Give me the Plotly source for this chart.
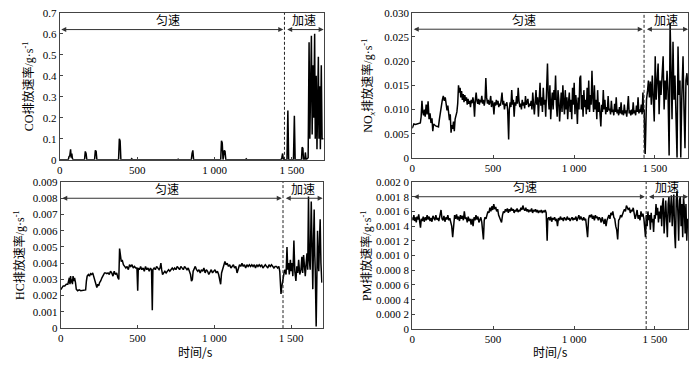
import plotly.graph_objects as go

# ---------------- data ----------------
x_ticks = [0, 500, 1000, 1500]
x_ticktext = ["0", "500", "1 000", "1 500"]

co_points = [
    (0, 0), (55, 0), (60, 0.015), (65, 0.02), (70, 0.05), (74, 0.01), (78, 0.03), (82, 0.005), (88, 0),
    (160, 0), (165, 0.04), (170, 0.03), (175, 0), (225, 0), (230, 0.045), (235, 0.04), (240, 0),
    (380, 0), (385, 0.1), (390, 0.09), (395, 0), (460, 0), (465, 0.005), (470, 0),
    (760, 0), (765, 0.003), (770, 0), (850, 0), (855, 0.03), (860, 0.045), (865, 0),
    (1040, 0), (1045, 0.09), (1050, 0.08), (1055, 0), (1063, 0.045), (1068, 0.04), (1073, 0),
    (1200, 0), (1205, 0.004), (1210, 0), (1300, 0), (1305, 0.003), (1310, 0),
    (1430, 0), (1435, 0.01), (1440, 0.03), (1445, 0), (1468, 0), (1474, 0.235), (1479, 0),
    (1510, 0), (1516, 0.21), (1521, 0), (1562, 0), (1566, 0.06), (1571, 0.055), (1575, 0),
    (1583, 0), (1587, 0.035), (1592, 0), (1605, 0.01), (1611, 0.56), (1616, 0.1), (1621, 0.55),
    (1626, 0.59), (1631, 0.12), (1636, 0.45), (1641, 0.2), (1647, 0.6), (1651, 0.1), (1657, 0.4),
    (1662, 0.05), (1667, 0.35), (1671, 0.49), (1675, 0.1), (1680, 0.35), (1684, 0.05), (1690, 0.45),
    (1695, 0.1), (1700, 0.1), (1705, 0.1),
]

nox_points = [
    (0, 0.0061), (5, 0.0068), (10, 0.0070), (20, 0.0069), (30, 0.0070), (40, 0.0070), (50, 0.0072),
    (55, 0.0085), (60, 0.0118), (65, 0.0095), (70, 0.0088), (75, 0.0100), (80, 0.0085), (86, 0.0110),
    (92, 0.0090), (98, 0.0117), (104, 0.0080), (110, 0.0092), (116, 0.0072), (122, 0.0082),
    (127, 0.0055), (132, 0.0070), (138, 0.0068), (145, 0.0066), (155, 0.0065), (162, 0.0064),
    (168, 0.0080), (175, 0.0100), (180, 0.0115), (186, 0.0120), (192, 0.0128), (198, 0.0118),
    (204, 0.0125), (210, 0.0110), (215, 0.0098), (220, 0.0108), (225, 0.0085), (230, 0.0078),
    (235, 0.0090), (240, 0.0052), (245, 0.0068), (250, 0.0060), (255, 0.0075), (260, 0.0055),
    (265, 0.0080), (270, 0.0088), (276, 0.0095), (281, 0.0112), (286, 0.0150), (291, 0.0135),
    (296, 0.0145), (300, 0.0125), (305, 0.0138), (310, 0.0120), (315, 0.0132), (320, 0.0115),
    (325, 0.0130), (330, 0.0118), (335, 0.0125), (340, 0.0110), (345, 0.0122), (350, 0.0112),
    (355, 0.0118), (360, 0.0105), (365, 0.0120), (370, 0.0113), (375, 0.0125), (380, 0.0115),
    (385, 0.0085), (390, 0.0120), (395, 0.0135), (400, 0.0118), (405, 0.0112), (410, 0.0122),
    (415, 0.0110), (420, 0.0120), (425, 0.0115), (430, 0.0128), (435, 0.0112), (440, 0.0120),
    (445, 0.0108), (450, 0.0118), (455, 0.0165), (460, 0.0125), (465, 0.0112), (470, 0.0120),
    (475, 0.0110), (480, 0.0115), (485, 0.0128), (490, 0.0105), (495, 0.0118), (500, 0.0112),
    (505, 0.0090), (510, 0.0115), (515, 0.0108), (520, 0.0120), (525, 0.0110), (530, 0.0118),
    (535, 0.0105), (540, 0.0112), (545, 0.0108), (550, 0.0120), (555, 0.0135), (560, 0.0110),
    (565, 0.0118), (570, 0.0100), (575, 0.0112), (580, 0.0108), (585, 0.0115), (590, 0.0098),
    (596, 0.0038), (600, 0.0100), (605, 0.0115), (610, 0.0105), (615, 0.0140), (620, 0.0110),
    (625, 0.0120), (630, 0.0085), (635, 0.0115), (640, 0.0108), (645, 0.0128), (650, 0.0112),
    (655, 0.0145), (660, 0.0118), (665, 0.0105), (670, 0.0112), (675, 0.0100), (680, 0.0120),
    (685, 0.0108), (690, 0.0115), (695, 0.0102), (700, 0.0128), (705, 0.0110), (710, 0.0115),
    (715, 0.0122), (720, 0.0105), (725, 0.0112), (730, 0.0108), (735, 0.0118), (740, 0.0100),
    (745, 0.0135), (750, 0.0110), (755, 0.0090), (760, 0.0115), (765, 0.0140), (770, 0.0110),
    (775, 0.0125), (780, 0.0085), (785, 0.0118), (790, 0.0155), (795, 0.0108), (800, 0.0125),
    (805, 0.0095), (810, 0.0145), (815, 0.0110), (820, 0.0120), (825, 0.0085), (830, 0.0130),
    (836, 0.0195), (841, 0.0125), (846, 0.0100), (851, 0.0150), (856, 0.0080), (861, 0.0115),
    (866, 0.0135), (871, 0.0100), (876, 0.0140), (881, 0.0120), (886, 0.0170), (891, 0.0110),
    (896, 0.0085), (901, 0.0140), (906, 0.0120), (911, 0.0075), (916, 0.0110), (921, 0.0135),
    (926, 0.0095), (931, 0.0150), (936, 0.0115), (941, 0.0090), (946, 0.0140), (951, 0.0100),
    (956, 0.0125), (961, 0.0080), (966, 0.0115), (971, 0.0135), (976, 0.0095), (981, 0.0120),
    (986, 0.0080), (991, 0.0145), (996, 0.0110), (1001, 0.0155), (1006, 0.0090), (1011, 0.0130),
    (1016, 0.0110), (1021, 0.0070), (1026, 0.0125), (1031, 0.0100), (1036, 0.0165), (1041, 0.0170),
    (1046, 0.0100), (1051, 0.0130), (1056, 0.0085), (1061, 0.0140), (1066, 0.0105), (1071, 0.0120),
    (1076, 0.0090), (1081, 0.0145), (1086, 0.0100), (1091, 0.0160), (1096, 0.0095), (1101, 0.0130),
    (1106, 0.0110), (1111, 0.0180), (1116, 0.0125), (1121, 0.0095), (1126, 0.0150), (1131, 0.0100),
    (1136, 0.0120), (1141, 0.0080), (1146, 0.0140), (1151, 0.0095), (1156, 0.0115), (1161, 0.0075),
    (1166, 0.0065), (1171, 0.0110), (1176, 0.0095), (1181, 0.0140), (1186, 0.0100), (1191, 0.0120),
    (1196, 0.0090), (1201, 0.0105), (1206, 0.0095), (1211, 0.0128), (1216, 0.0098), (1221, 0.0102),
    (1226, 0.0090), (1231, 0.0118), (1236, 0.0095), (1241, 0.0100), (1246, 0.0088), (1251, 0.0112),
    (1256, 0.0095), (1261, 0.0125), (1266, 0.0092), (1271, 0.0100), (1276, 0.0088), (1281, 0.0105),
    (1286, 0.0092), (1291, 0.0115), (1296, 0.0090), (1301, 0.0098), (1306, 0.0088), (1311, 0.0110),
    (1316, 0.0092), (1321, 0.0098), (1326, 0.0085), (1331, 0.0105), (1336, 0.0128), (1341, 0.0092),
    (1346, 0.0098), (1351, 0.0088), (1356, 0.0100), (1361, 0.0090), (1366, 0.0115), (1371, 0.0092),
    (1376, 0.0098), (1381, 0.0088), (1386, 0.0108), (1391, 0.0095), (1396, 0.0125), (1401, 0.0092),
    (1406, 0.0100), (1411, 0.0095), (1416, 0.0110), (1421, 0.0090), (1426, 0.0135), (1430, 0.0095),
    (1434, 0.0100), (1437, 0.0030), (1440, 0.0008), (1444, 0.0060), (1448, 0.0120), (1455, 0.0140),
    (1460, 0.0160), (1466, 0.0125), (1472, 0.0158), (1478, 0.0110), (1484, 0.0170), (1490, 0.0125),
    (1496, 0.0075), (1502, 0.0210), (1508, 0.0120), (1514, 0.0160), (1520, 0.0195), (1526, 0.0090),
    (1532, 0.0160), (1538, 0.0130), (1545, 0.0175), (1551, 0.0210), (1557, 0.0100), (1563, 0.0160),
    (1569, 0.0120), (1575, 0.0180), (1581, 0.0140), (1588, 0.0005), (1594, 0.0280), (1600, 0.0150),
    (1606, 0.0080), (1612, 0.0240), (1618, 0.0120), (1624, 0.0170), (1630, 0.0090), (1637, 0.0000),
    (1643, 0.0230), (1649, 0.0130), (1655, 0.0160), (1660, 0.0000), (1666, 0.0120), (1674, 0.0210),
    (1680, 0.0100), (1686, 0.0020), (1692, 0.0160), (1698, 0.0175), (1703, 0.0150),
]

hc_points = [
    (0, 0.00237), (8, 0.0025), (16, 0.0026), (26, 0.0026), (36, 0.0027), (46, 0.0027), (52, 0.0029),
    (56, 0.0031), (60, 0.0027), (64, 0.0032), (68, 0.0028), (72, 0.0030), (76, 0.0027), (80, 0.0032),
    (85, 0.0029), (90, 0.0031), (96, 0.0028), (101, 0.0024), (110, 0.0023), (120, 0.00235),
    (130, 0.0023), (140, 0.00232), (150, 0.0023), (162, 0.00235), (167, 0.0029), (172, 0.0032),
    (180, 0.0033), (187, 0.0032), (194, 0.00335), (201, 0.0033), (208, 0.0034), (214, 0.0032),
    (220, 0.0030), (227, 0.0028), (231, 0.0026), (235, 0.0025), (241, 0.0027), (247, 0.0026),
    (253, 0.0028), (260, 0.0029), (268, 0.0031), (276, 0.0033), (285, 0.0034), (292, 0.0034),
    (300, 0.00335), (308, 0.0034), (316, 0.0033), (324, 0.0035), (332, 0.0034), (340, 0.0032),
    (348, 0.0035), (356, 0.0033), (364, 0.0034), (372, 0.0031), (378, 0.0030), (383, 0.0049),
    (388, 0.0044), (394, 0.0041), (400, 0.0042), (408, 0.0039), (416, 0.0038), (424, 0.0037),
    (432, 0.0038), (440, 0.0036), (448, 0.0039), (456, 0.0038), (464, 0.0039), (472, 0.0037),
    (480, 0.0038), (488, 0.0037), (496, 0.0037), (501, 0.0023), (505, 0.0037), (512, 0.0036),
    (520, 0.0038), (528, 0.0036), (536, 0.0037), (544, 0.0035), (552, 0.0038), (560, 0.0036),
    (568, 0.0037), (576, 0.0035), (584, 0.0037), (591, 0.0036), (596, 0.0011), (600, 0.0036),
    (608, 0.0037), (616, 0.0036), (624, 0.0038), (632, 0.0037), (640, 0.0036), (646, 0.0037),
    (652, 0.0040), (657, 0.0036), (663, 0.0033), (670, 0.0034), (678, 0.0035), (686, 0.0034),
    (694, 0.0035), (702, 0.0036), (710, 0.0035), (718, 0.0036), (726, 0.0037), (734, 0.0036),
    (742, 0.0037), (750, 0.0036), (758, 0.0038), (766, 0.0037), (774, 0.0036), (782, 0.0038),
    (790, 0.0037), (798, 0.0036), (806, 0.0038), (814, 0.0037), (822, 0.0036), (830, 0.0037),
    (838, 0.0035), (845, 0.0033), (851, 0.0029), (857, 0.0030), (862, 0.0035), (868, 0.0037),
    (876, 0.0038), (884, 0.0036), (892, 0.0035), (900, 0.0036), (908, 0.0034), (916, 0.0036),
    (924, 0.0035), (932, 0.0037), (940, 0.0034), (948, 0.0036), (956, 0.0035), (964, 0.0033),
    (972, 0.0035), (980, 0.0036), (988, 0.0034), (996, 0.0035), (1004, 0.0036), (1012, 0.0034),
    (1020, 0.0035), (1028, 0.0033), (1034, 0.0031), (1041, 0.0027), (1047, 0.0034), (1054, 0.0036),
    (1062, 0.0038), (1069, 0.0041), (1076, 0.0039), (1084, 0.0040), (1092, 0.0038), (1100, 0.0039),
    (1108, 0.0037), (1116, 0.0038), (1124, 0.0039), (1132, 0.0037), (1140, 0.0038), (1148, 0.0034),
    (1156, 0.0037), (1164, 0.0039), (1172, 0.0038), (1180, 0.0040), (1188, 0.0038), (1196, 0.0039),
    (1204, 0.0037), (1212, 0.0039), (1220, 0.0038), (1228, 0.0039), (1236, 0.0038), (1244, 0.0039),
    (1252, 0.0038), (1260, 0.0039), (1268, 0.0037), (1276, 0.0039), (1284, 0.0038), (1292, 0.0039),
    (1300, 0.0038), (1308, 0.0039), (1316, 0.0037), (1324, 0.0038), (1332, 0.0039), (1340, 0.0038),
    (1348, 0.0037), (1356, 0.0039), (1364, 0.0038), (1372, 0.0039), (1380, 0.0038), (1388, 0.0037),
    (1396, 0.0038), (1404, 0.0038), (1412, 0.0037), (1420, 0.0038), (1426, 0.0035), (1430, 0.0026),
    (1434, 0.0021), (1438, 0.0025), (1442, 0.0028), (1448, 0.0031), (1454, 0.0034), (1460, 0.0036),
    (1467, 0.0033), (1473, 0.0050), (1478, 0.0036), (1483, 0.0040), (1488, 0.0033), (1495, 0.0042),
    (1500, 0.0035), (1505, 0.0040), (1511, 0.0032), (1518, 0.0054), (1524, 0.0035), (1531, 0.0029),
    (1537, 0.0038), (1543, 0.0034), (1549, 0.0042), (1556, 0.0033), (1564, 0.0036), (1570, 0.0044),
    (1575, 0.0034), (1581, 0.0045), (1586, 0.0036), (1592, 0.0032), (1598, 0.0040), (1603, 0.0046),
    (1608, 0.0036), (1613, 0.0081), (1618, 0.0042), (1624, 0.0036), (1631, 0.0078), (1636, 0.0040),
    (1641, 0.0024), (1646, 0.0055), (1650, 0.0073), (1654, 0.0045), (1657, 0.0036), (1663, 0.0001),
    (1668, 0.0045), (1672, 0.0060), (1676, 0.0040), (1680, 0.0035), (1685, 0.0055), (1689, 0.0067),
    (1694, 0.0040), (1700, 0.0028),
]

pm_points = [
    (0, 0.00152), (5, 0.00148), (10, 0.00155), (15, 0.00147), (20, 0.00152), (25, 0.00145),
    (30, 0.00153), (35, 0.00149), (40, 0.00156), (45, 0.00146), (51, 0.00138), (56, 0.00150),
    (62, 0.00147), (68, 0.00153), (74, 0.00146), (80, 0.00152), (86, 0.00148), (92, 0.00155),
    (98, 0.00149), (104, 0.00153), (110, 0.00147), (116, 0.00151), (122, 0.00146), (128, 0.00154),
    (134, 0.00150), (140, 0.00148), (146, 0.00155), (152, 0.00149), (158, 0.00151), (164, 0.00147),
    (170, 0.00153), (178, 0.00162), (184, 0.00150), (190, 0.00148), (196, 0.00154), (202, 0.00146),
    (208, 0.00152), (214, 0.00149), (220, 0.00155), (226, 0.00148), (232, 0.00151), (238, 0.00145),
    (244, 0.00140), (250, 0.00125), (256, 0.00145), (262, 0.00155), (268, 0.00150), (274, 0.00156),
    (280, 0.00149), (286, 0.00153), (292, 0.00147), (298, 0.00155), (304, 0.00150), (310, 0.00154),
    (316, 0.00148), (322, 0.00160), (328, 0.00150), (334, 0.00152), (340, 0.00145), (346, 0.00153),
    (352, 0.00147), (358, 0.00150), (364, 0.00142), (370, 0.00150), (376, 0.00140), (382, 0.00152),
    (388, 0.00148), (394, 0.00155), (400, 0.00149), (406, 0.00153), (412, 0.00145), (418, 0.00150),
    (424, 0.00152), (430, 0.00145), (436, 0.00135), (440, 0.00122), (445, 0.00148), (450, 0.00152),
    (456, 0.00150), (462, 0.00155), (468, 0.00160), (474, 0.00158), (480, 0.00165), (486, 0.00160),
    (492, 0.00167), (498, 0.00162), (504, 0.00170), (510, 0.00163), (516, 0.00166), (522, 0.00160),
    (528, 0.00163), (534, 0.00155), (540, 0.00152), (546, 0.00150), (552, 0.00145), (558, 0.00155),
    (564, 0.00160), (570, 0.00158), (576, 0.00163), (582, 0.00160), (588, 0.00164), (594, 0.00158),
    (600, 0.00163), (606, 0.00160), (612, 0.00165), (618, 0.00161), (624, 0.00163), (630, 0.00158),
    (636, 0.00162), (642, 0.00160), (648, 0.00164), (654, 0.00159), (660, 0.00162), (666, 0.00160),
    (672, 0.00165), (678, 0.00162), (684, 0.00168), (690, 0.00163), (696, 0.00161), (702, 0.00165),
    (708, 0.00160), (714, 0.00163), (720, 0.00159), (726, 0.00162), (732, 0.00160), (738, 0.00164),
    (744, 0.00158), (750, 0.00162), (756, 0.00160), (762, 0.00163), (768, 0.00159), (774, 0.00162),
    (780, 0.00158), (786, 0.00161), (792, 0.00159), (798, 0.00162), (804, 0.00158), (810, 0.00161),
    (816, 0.00159), (822, 0.00162), (828, 0.00158), (834, 0.00120), (838, 0.00150), (844, 0.00152),
    (850, 0.00148), (856, 0.00153), (862, 0.00146), (868, 0.00151), (874, 0.00149), (880, 0.00152),
    (886, 0.00147), (892, 0.00150), (898, 0.00140), (904, 0.00151), (910, 0.00148), (916, 0.00153),
    (922, 0.00149), (928, 0.00151), (934, 0.00147), (940, 0.00152), (946, 0.00150), (952, 0.00148),
    (958, 0.00153), (964, 0.00149), (970, 0.00151), (976, 0.00147), (982, 0.00150), (988, 0.00152),
    (994, 0.00148), (1000, 0.00151), (1006, 0.00149), (1012, 0.00153), (1018, 0.00147), (1024, 0.00152),
    (1030, 0.00155), (1036, 0.00149), (1042, 0.00153), (1048, 0.00150), (1054, 0.00148), (1060, 0.00152),
    (1066, 0.00148), (1072, 0.00150), (1078, 0.00140), (1084, 0.00125), (1090, 0.00150), (1096, 0.00155),
    (1102, 0.00152), (1108, 0.00156), (1114, 0.00150), (1120, 0.00154), (1126, 0.00148), (1132, 0.00155),
    (1138, 0.00151), (1144, 0.00153), (1150, 0.00148), (1156, 0.00152), (1162, 0.00150), (1168, 0.00145),
    (1174, 0.00152), (1180, 0.00148), (1186, 0.00143), (1192, 0.00150), (1198, 0.00140), (1204, 0.00148),
    (1210, 0.00153), (1216, 0.00155), (1222, 0.00150), (1228, 0.00158), (1234, 0.00155), (1240, 0.00160),
    (1246, 0.00152), (1252, 0.00150), (1258, 0.00140), (1264, 0.00135), (1270, 0.00122), (1276, 0.00148),
    (1282, 0.00150), (1288, 0.00155), (1294, 0.00152), (1300, 0.00158), (1306, 0.00160), (1312, 0.00163),
    (1318, 0.00160), (1324, 0.00168), (1330, 0.00165), (1336, 0.00162), (1342, 0.00165), (1348, 0.00158),
    (1354, 0.00162), (1360, 0.00160), (1366, 0.00165), (1372, 0.00158), (1378, 0.00150), (1384, 0.00155),
    (1390, 0.00162), (1396, 0.00150), (1402, 0.00155), (1408, 0.00148), (1414, 0.00160), (1420, 0.00153),
    (1426, 0.00157), (1432, 0.00150), (1437, 0.00140), (1442, 0.00125), (1447, 0.00155), (1452, 0.00140),
    (1457, 0.00160), (1462, 0.00148), (1467, 0.00155), (1472, 0.00135), (1477, 0.00158), (1482, 0.00145),
    (1487, 0.00150), (1492, 0.00132), (1497, 0.00155), (1502, 0.00150), (1507, 0.00170), (1512, 0.00155),
    (1517, 0.00165), (1522, 0.00145), (1527, 0.00160), (1532, 0.00150), (1537, 0.00168), (1542, 0.00140),
    (1547, 0.00170), (1552, 0.00178), (1557, 0.00130), (1562, 0.00165), (1567, 0.00175), (1572, 0.00150),
    (1577, 0.00125), (1582, 0.00170), (1587, 0.00180), (1592, 0.00145), (1597, 0.00165), (1602, 0.00182),
    (1607, 0.00140), (1612, 0.00170), (1617, 0.00183), (1622, 0.00130), (1627, 0.00110), (1632, 0.00175),
    (1637, 0.00188), (1642, 0.00160), (1647, 0.00120), (1652, 0.00175), (1657, 0.00180), (1662, 0.00140),
    (1667, 0.00170), (1672, 0.00125), (1677, 0.00180), (1682, 0.00165), (1687, 0.00130), (1692, 0.00170),
    (1697, 0.00120), (1702, 0.00150),
]

co_yticks = [0, 0.1, 0.2, 0.3, 0.4, 0.5, 0.6, 0.7]
co_ytext = ["0", "0.1", "0.2", "0.3", "0.4", "0.5", "0.6", "0.7"]
nox_yticks = [0, 0.005, 0.010, 0.015, 0.020, 0.025, 0.030]
nox_ytext = ["0", "0.005", "0.010", "0.015", "0.020", "0.025", "0.030"]
hc_yticks = [0, 0.001, 0.002, 0.003, 0.004, 0.005, 0.006, 0.007, 0.008, 0.009]
hc_ytext = ["0", "0.001", "0.002", "0.003", "0.004", "0.005", "0.006", "0.007", "0.008", "0.009"]
pm_yticks = [0, 0.0002, 0.0004, 0.0006, 0.0008, 0.0010, 0.0012, 0.0014, 0.0016, 0.0018, 0.0020]
pm_ytext = ["0", "0.000 2", "0.000 4", "0.000 6", "0.000 8", "0.001 0", "0.001 2",
            "0.001 4", "0.001 6", "0.001 8", "0.002 0"]

phase_labels = ["匀速", "加速"]
phase_boundary = [1452, 1433, 1447, 1446]   # time where the dashed line sits, per panel
arrow_level = [0.62, 0.0266, 0.0080, 0.0018]

y_titles = ["CO排放速率/g·s<sup>-1</sup>", "NO<i><sub>x</sub></i>排放速率/g·s<sup>-1</sup>",
            "HC排放速率/g·s<sup>-1</sup>", "PM排放速率/g·s<sup>-1</sup>"]
x_title = "时间/s"
x_max = 1705

# ---------------- figure ----------------
W, H = 700, 366
SERIF = "Liberation Serif, Times New Roman, Noto Sans CJK SC, serif"
CJK = "Noto Sans CJK SC, Liberation Serif, sans-serif"

panels = [
    dict(pts=co_points, yr=[0, 0.7], yt=co_yticks, ytt=co_ytext, px=(57, 322), py=(7, 159), tx=25),
    dict(pts=nox_points, yr=[0, 0.030], yt=nox_yticks, ytt=nox_ytext, px=(411, 688), py=(7, 157), tx=367),
    dict(pts=hc_points, yr=[0, 0.009], yt=hc_yticks, ytt=hc_ytext, px=(58, 321), py=(182, 333), tx=16),
    dict(pts=pm_points, yr=[0, 0.0020], yt=pm_yticks, ytt=pm_ytext, px=(411, 688), py=(182, 334), tx=365),
]

fig = go.Figure()
layout = dict(width=W, height=H, margin=dict(l=0, r=0, t=0, b=0),
              paper_bgcolor="white", plot_bgcolor="white", showlegend=False)
annotations = []
shapes = []
frame = "#444444"

for i, p in enumerate(panels):
    n = "" if i == 0 else str(i + 1)
    xa, ya = "x" + n, "y" + n
    t, v = zip(*p["pts"])
    fig.add_trace(go.Scatter(x=list(t), y=list(v), mode="lines", xaxis=xa, yaxis=ya,
                             line=dict(color="black", width=1.5), hoverinfo="skip"))
    x0, x1 = p["px"]
    y0, y1 = p["py"]
    layout["xaxis" + n] = dict(domain=[x0 / W, x1 / W], anchor=ya, range=[0, x_max],
                               tickvals=x_ticks, ticktext=x_ticktext, ticks="inside", ticklen=3,
                               tickcolor=frame, showline=True, mirror=True, linecolor=frame,
                               linewidth=1, showgrid=False, zeroline=False,
                               tickfont=dict(family=SERIF, size=11, color="black"))
    layout["yaxis" + n] = dict(domain=[1 - y1 / H, 1 - y0 / H], anchor=xa, range=p["yr"],
                               tickvals=p["yt"], ticktext=p["ytt"], ticks="inside", ticklen=3,
                               tickcolor=frame, showline=True, mirror=True, linecolor=frame,
                               linewidth=1, showgrid=False, zeroline=False,
                               tickfont=dict(family=SERIF, size=11, color="black"))
    # y title
    annotations.append(dict(text=y_titles[i], xref="paper", yref="paper", x=p["tx"] / W,
                            y=1 - (y0 + y1) / 2 / H, textangle=-90, showarrow=False,
                            xanchor="center", yanchor="middle",
                            font=dict(family=SERIF, size=12, color="black")))
    b = phase_boundary[i]
    lvl = arrow_level[i]
    shapes.append(dict(type="line", xref=xa, yref=ya + " domain", x0=b, x1=b, y0=0, y1=1,
                       line=dict(color="#222222", width=1, dash="3px,2px")))
    # double-headed arrows
    for (a0, a1) in [(0, b - 8), (b + 8, x_max)]:
        annotations.append(dict(x=a1, y=lvl, ax=a0, ay=lvl, xref=xa, yref=ya, axref=xa, ayref=ya,
                                showarrow=True, arrowhead=2, arrowside="end+start", arrowsize=1,
                                arrowwidth=1, arrowcolor="#333333", text=""))
    # phase labels
    for lab, xc in zip(phase_labels, [b * 0.48, (b + x_max) / 2]):
        annotations.append(dict(text=lab, x=xc, y=lvl, xref=xa, yref=ya, showarrow=False,
                                yshift=10, xanchor="center", yanchor="middle",
                                font=dict(family=CJK, size=12, color="black")))

for xc in [193, 550]:
    annotations.append(dict(text=x_title, xref="paper", yref="paper", x=xc / W, y=1 - 357 / H,
                            showarrow=False, xanchor="center", yanchor="middle",
                            font=dict(family=CJK, size=12, color="black")))

layout["annotations"] = annotations
layout["shapes"] = shapes
fig.update_layout(**layout)
fig.write_html("out.html", config={"displayModeBar": False},
               post_script="document.body.style.margin='0';document.body.style.overflow='hidden';")
